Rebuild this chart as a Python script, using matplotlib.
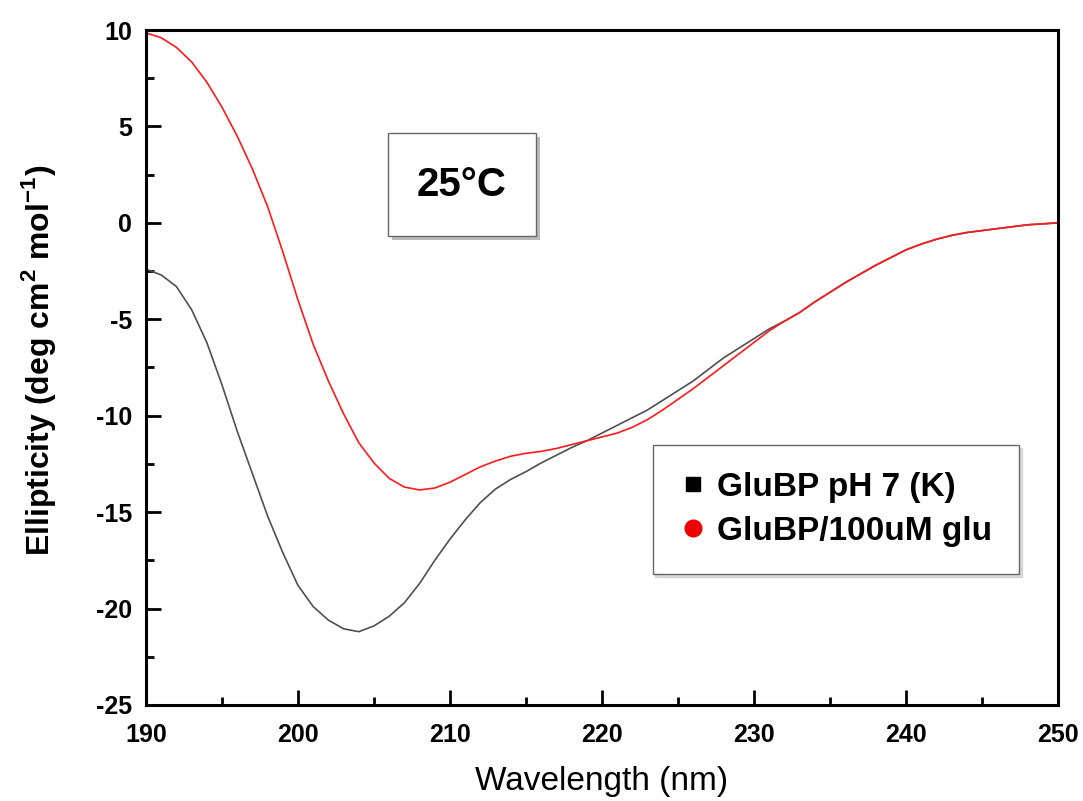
import matplotlib.pyplot as plt
from matplotlib.lines import Line2D
from matplotlib.patches import Rectangle
from matplotlib.ticker import MultipleLocator

# wavelength grid (nm) and ellipticity values
wavelength = list(range(190, 251))

apo_ph7 = [
    -2.4, -2.7, -3.3, -4.5, -6.2, -8.4, -10.8, -13.0, -15.2, -17.1,
    -18.8, -19.9, -20.6, -21.05, -21.2, -20.9, -20.4, -19.7, -18.7, -17.5,
    -16.4, -15.4, -14.5, -13.8, -13.3, -12.9, -12.45, -12.05, -11.65, -11.3,
    -10.9, -10.5, -10.1, -9.7, -9.2, -8.7, -8.2, -7.6, -7.0, -6.5,
    -6.0, -5.5, -5.1, -4.65, -4.1, -3.6, -3.1, -2.65, -2.2, -1.8,
    -1.4, -1.1, -0.85, -0.65, -0.5, -0.4, -0.3, -0.2, -0.1, -0.05,
    0.0,
]

glu_bound = [
    9.85, 9.6, 9.1, 8.35, 7.3, 6.0, 4.5, 2.8, 0.85, -1.5,
    -4.0, -6.3, -8.2, -9.9, -11.4, -12.45, -13.25, -13.7, -13.85, -13.75,
    -13.45, -13.05, -12.65, -12.35, -12.1, -11.95, -11.85, -11.7, -11.5, -11.3,
    -11.1, -10.9, -10.6, -10.2, -9.7, -9.15, -8.6, -8.0, -7.4, -6.8,
    -6.2, -5.6, -5.1, -4.65, -4.1, -3.6, -3.1, -2.65, -2.2, -1.8,
    -1.4, -1.1, -0.85, -0.65, -0.5, -0.4, -0.3, -0.2, -0.1, -0.05,
    0.0,
]

labels = ["GluBP pH 7 (K)", "GluBP/100uM glu"]

plt.rcParams["font.family"] = ["Liberation Sans", "DejaVu Sans"]
plt.rcParams["axes.unicode_minus"] = False

fig = plt.figure(figsize=(10.83, 8.01), dpi=100)
ax = fig.add_axes([0.1348, 0.1199, 0.8421, 0.8426])

ax.plot(wavelength, apo_ph7, color="#505050", lw=1.2)
ax.plot(wavelength, glu_bound, color="#ff1a1a", lw=1.2)

ax.set_xlim(190, 250)
ax.set_ylim(-25, 10)
ax.xaxis.set_major_locator(MultipleLocator(10))
ax.xaxis.set_minor_locator(MultipleLocator(5))
ax.yaxis.set_major_locator(MultipleLocator(5))
ax.yaxis.set_minor_locator(MultipleLocator(2.5))

for s in ax.spines.values():
    s.set_linewidth(2.2)
ax.tick_params(which="both", direction="in", width=2, labelsize=18, top=False, right=False)
ax.tick_params(which="major", length=11, pad=10)
ax.tick_params(axis="x", which="major", pad=13)
ax.tick_params(which="minor", length=6)
for t in ax.get_xticklabels() + ax.get_yticklabels():
    t.set_fontweight("bold")

ax.set_xlabel("Wavelength (nm)", fontsize=24, labelpad=14)
ax.set_ylabel(r"Ellipticity (deg cm$^{\mathregular{2}}$ mol$^{\mathregular{-1}}$)",
              fontsize=23, fontweight="bold")
ax.yaxis.set_label_coords(-0.097, 0.51)

# temperature box with a soft shadow
ax.add_patch(Rectangle((0.2694, 0.6888), 0.1622, 0.1526, transform=ax.transAxes,
                       fc="#bbbbbb", ec="none", zorder=3))
ax.add_patch(Rectangle((0.2654, 0.6948), 0.1622, 0.1526, transform=ax.transAxes,
                       fc="white", ec="#666666", lw=1.0, zorder=4))
ax.text(0.3465, 0.7704, "25°C", transform=ax.transAxes, fontsize=29, fontweight="bold",
        ha="center", va="center", zorder=5)

handles = [
    Line2D([], [], ls="none", marker="s", ms=10, color="black"),
    Line2D([], [], ls="none", marker="o", ms=12, color="#ee0000"),
]
leg = ax.legend(handles, labels, loc="upper left", bbox_to_anchor=(0.5556, 0.385),
                borderaxespad=0, prop={"weight": "bold", "size": 24},
                frameon=True, fancybox=False, shadow={"color": "#bbbbbb"}, framealpha=1,
                edgecolor="#666666", borderpad=0.8, handletextpad=0.33,
                handlelength=0.8, labelspacing=0.4)
leg.get_frame().set_linewidth(1.0)

fig.savefig("out.png", dpi=100)
